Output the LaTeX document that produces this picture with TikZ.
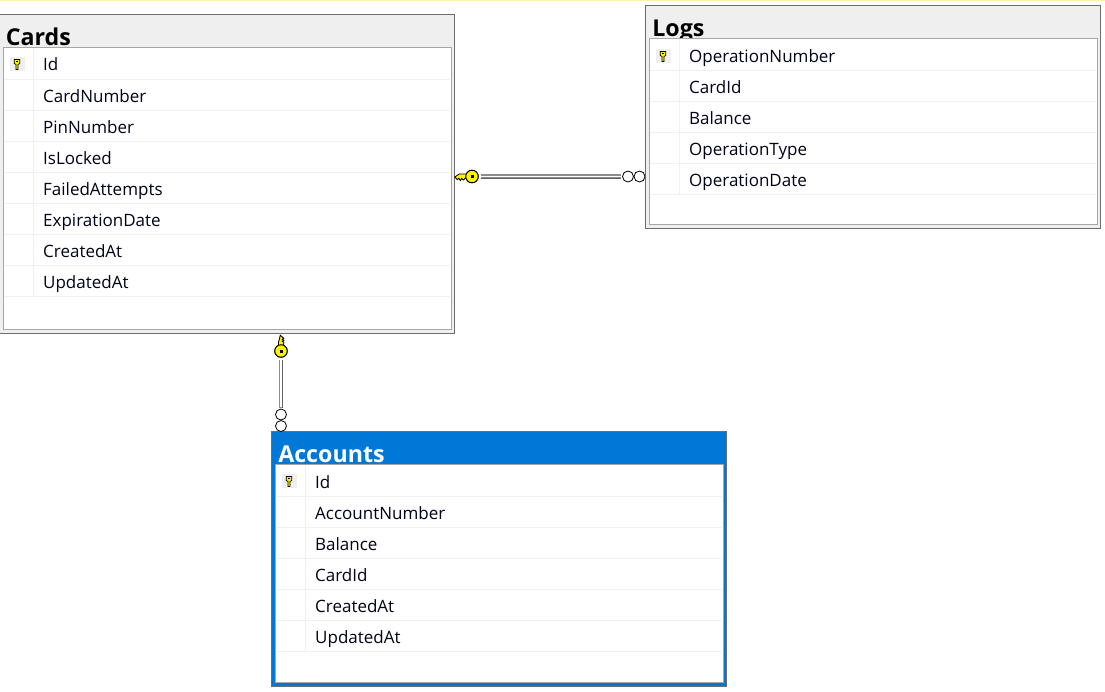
\documentclass[tikz,border=0pt]{standalone}
\usepackage{fontspec}
\setmainfont{Open Sans}
\definecolor{edgegray}{HTML}{6D6D6D}
\definecolor{panelgray}{HTML}{EFEFEF}
\definecolor{framegray}{HTML}{A6A6A6}
\definecolor{rowline}{HTML}{F0F0F0}
\definecolor{selblue}{HTML}{0078D7}
\definecolor{keyyellow}{HTML}{FFF200}
\definecolor{topline}{HTML}{FFF2A8}
\tikzset{
  rowtext/.style={anchor=base west,inner sep=0pt,font=\fontsize{17}{20}\selectfont,text=black!90!blue},
  titletext/.style={anchor=base west,inner sep=0pt,font=\fontsize{23.2}{28}\bfseries\selectfont},
  bigkey/.style={circle,draw=black,fill=keyyellow,line width=.9pt,minimum size=12.5pt,inner sep=0pt},
  crow/.style={circle,draw=black,fill=white,line width=.8pt,minimum size=11pt,inner sep=0pt},
  reltube/.style={draw=black!45,line width=4.6pt,line cap=butt},
  reltubein/.style={draw=white,line width=1.8pt,line cap=butt},
  keyshape/.style={draw=black,fill=keyyellow,line width=.9pt,line join=miter}
}
\newcommand{\tablebox}[9]{%
  \fill[#7,draw=edgegray,line width=1pt] (#1,#2) rectangle (#3,#4);
  \node[titletext,text=#9] at (#1+6.6,#5-2) {#8};
  \fill[white,draw=framegray,line width=1pt] (#1+4,#5) rectangle (#3-3.5,#4-4);
}
\newcommand{\smallkey}[2]{%
  \fill[panelgray] (#1-7.5,#2-7) rectangle (#1+7.5,#2+7);
  \fill[keyyellow,draw=black,line width=.7pt] (#1-2.8,#2-4.5) -- (#1+2.8,#2-4.5) -- (#1+2.8,#2-.5) -- (#1+1,#2+.5) -- (#1+1,#2+5.5) -- (#1-1,#2+5.5) -- (#1-1,#2+.5) -- (#1-2.8,#2-.5) -- cycle;
  \fill[black] (#1-.8,#2-3.2) rectangle (#1+.8,#2-1.6);
}
\begin{document}
\begin{tikzpicture}[x=1pt,y=-1pt]
\useasboundingbox (0,0) rectangle (1105,691);
\fill[white] (0,0) rectangle (1105,691);
\fill[topline] (0,0) rectangle (1105,1.2);

% Cards
\tablebox{-1}{14.5}{454.5}{333}{47.5}{33}{panelgray}{Cards}{black}
\foreach \yy in {79.5,110.5,141.5,172.5,203.5,234.5,265.5,296.5}
  \draw[rowline,line width=1pt] (4,\yy) -- (450,\yy);
\draw[rowline,line width=1pt] (33,48) -- (33,296);
\smallkey{17}{64}
\foreach \ii/\tt/\yy in {1/Id/70,2/CardNumber/102,3/PinNumber/133,4/IsLocked/164,5/FailedAttempts/195,6/ExpirationDate/226,7/CreatedAt/257,8/UpdatedAt/288}
  \node[rowtext] (cards\ii) at (43,\yy) {\tt};

% Logs
\tablebox{645.5}{5.8}{1100.5}{228.5}{38.5}{679}{panelgray}{Logs}{black}
\foreach \yy in {70.5,101.5,132.5,163.5,194.5}
  \draw[rowline,line width=1pt] (650,\yy) -- (1096,\yy);
\draw[rowline,line width=1pt] (679,39) -- (679,194);
\smallkey{663}{56}
\foreach \ii/\tt/\yy in {1/OperationNumber/62,2/CardId/93,3/Balance/124,4/OperationType/155,5/OperationDate/186}
  \node[rowtext] (logs\ii) at (689,\yy) {\tt};

% Accounts
\tablebox{271.5}{431.8}{726.5}{686.5}{464.5}{305}{selblue}{Accounts}{white}
\foreach \yy in {496.5,527.5,558.5,589.5,620.5,651.5}
  \draw[rowline,line width=1pt] (276,\yy) -- (722,\yy);
\draw[rowline,line width=1pt] (305,465) -- (305,651);
\smallkey{289}{481}
\foreach \ii/\tt/\yy in {1/Id/488,2/AccountNumber/519,3/Balance/550,4/CardId/581,5/CreatedAt/612,6/UpdatedAt/643}
  \node[rowtext] (acc\ii) at (315,\yy) {\tt};

% Cards -- Logs relationship
\node[bigkey] (keyA) at (472,176.5) {};
\node[crow] (crowA) at (628,176.5) {};
\begin{scope}
\clip (600,160) rectangle (645,195);
\node[crow] (crowAb) at (639.5,176.5) {};
\end{scope}
\fill[keyshape] (keyA.west) ++(1,-2.5) -- ++(-7,0) -- ++(-4.5,3) -- ++(2.5,2.5) -- ++(1.5,-1.2) -- ++(1.5,2.2) -- ++(1.5,-2) -- ++(1.5,1.5) -- ++(3,-2.5) -- cycle;
\node[bigkey] at (keyA) {};
\fill[black] (470.5,175) rectangle (473.5,178);
\draw[reltube,shorten <=2pt,shorten >=1pt] (keyA.east) -- (crowA.west);
\draw[reltubein,shorten <=2.5pt,shorten >=1.5pt] (keyA.east) -- (crowA.west);
\draw[black!62,line width=1.2pt,shorten <=2pt,shorten >=1pt] ([yshift=-1.6pt]keyA.east) -- ([yshift=-1.6pt]crowA.west);

% Cards -- Accounts relationship
\node[bigkey] (keyB) at (281,351) {};
\node[crow] (crowB) at (281,414.5) {};
\begin{scope}
\clip (270,400) rectangle (292,432);
\node[crow] (crowBb) at (281,426) {};
\end{scope}
\fill[keyshape] (keyB.north) ++(-2.5,1) -- ++(0,-3) -- ++(1.8,-7) -- ++(3.5,3) -- ++(-1.5,1) -- ++(1.5,1) -- ++(-1.5,1) -- ++(1.5,1) -- ++(-.3,3) -- cycle;
\node[bigkey] at (keyB) {};
\fill[black] (279.5,349.5) rectangle (282.5,352.5);
\draw[reltube,shorten <=2pt,shorten >=1pt] (keyB.south) -- (crowB.north);
\draw[reltubein,shorten <=2.5pt,shorten >=1.5pt] (keyB.south) -- (crowB.north);
\draw[black!62,line width=1.2pt,shorten <=2pt,shorten >=1pt] ([xshift=1.6pt]keyB.south) -- ([xshift=1.6pt]crowB.north);
\end{tikzpicture}
\end{document}
